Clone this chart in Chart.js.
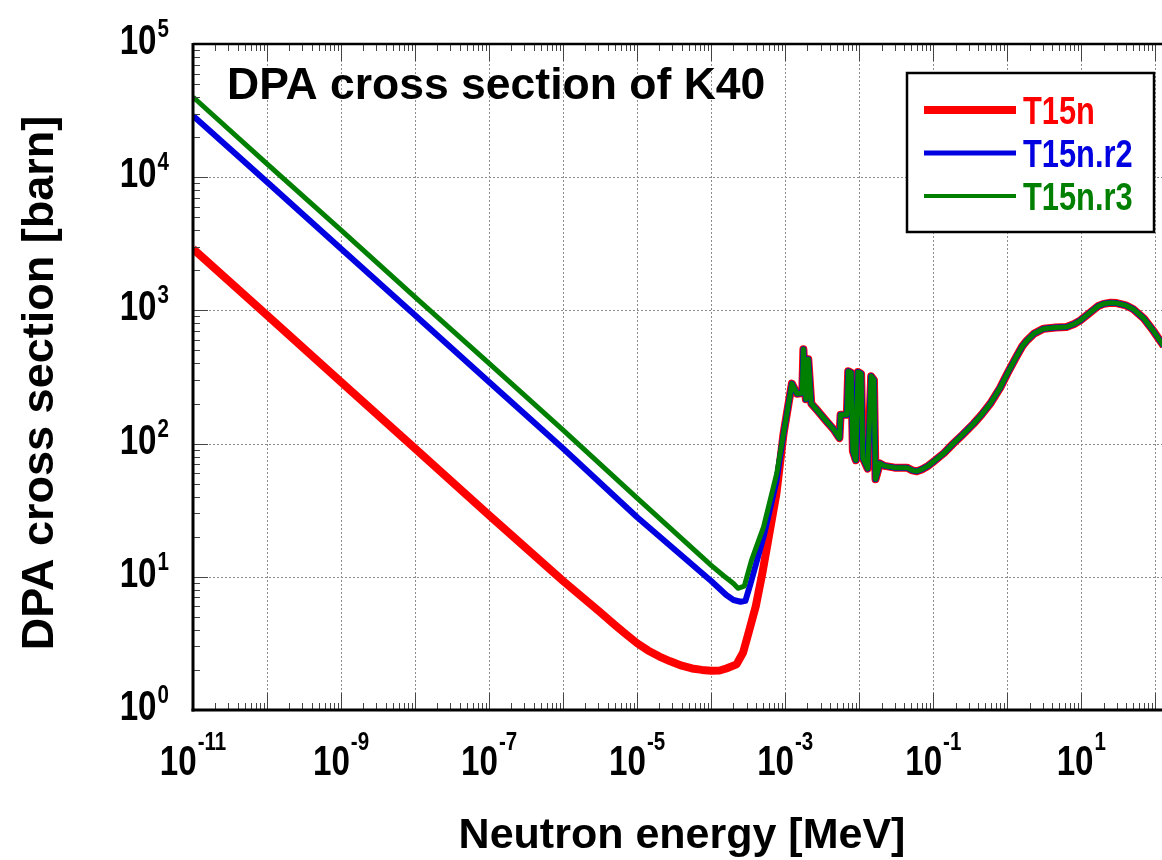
<!DOCTYPE html>
<html>
<head>
<meta charset="utf-8">
<title>DPA cross section of K40</title>
<script src="https://cdn.jsdelivr.net/npm/chart.js@4.4.1/dist/chart.umd.min.js"></script>
<style>
    html, body { margin: 0; padding: 0; background: #fff; overflow: hidden; }
    canvas { display: block; }
</style>
</head>
<body>
<canvas id="dpaChart" width="1162" height="860"></canvas>
<script>
//---------------------------------------------------------------------
// DATA (energy in MeV, cross section in barn)
//---------------------------------------------------------------------
const energyT15n = [1e-11, 1e-10, 1e-9, 1e-8, 1e-7, 1e-6, 3.2e-6, 5e-6, 7e-6, 1e-5, 1.4e-5, 2e-5, 2.8e-5, 4e-5, 5.5e-5, 7.5e-5,
                    1e-4, 1.3e-4, 1.6e-4, 2.2e-4, 2.7e-4, 3.2e-4, 4.0e-4, 4.9e-4, 6.0e-4, 7.6e-4];
const xsT15n     = [2900, 920, 290, 92, 29, 9.3, 5.4, 4.35, 3.72, 3.17, 2.8, 2.52, 2.32, 2.15, 2.05, 2.0,
                    1.97, 1.98, 2.05, 2.2, 2.7, 3.8, 6.0, 10.6, 20, 42];

const energyR2 = [1e-11, 1e-10, 1e-9, 1e-8, 1e-7, 1e-6, 1e-5, 1e-4, 1.6e-4, 2.0e-4, 2.5e-4, 2.9e-4, 3.4e-4, 5.1e-4, 7.6e-4];
const xsR2     = [29000, 9200, 2900, 920, 290, 92, 28, 9.3, 7.3, 6.7, 6.5, 6.6, 8.9, 20, 52];

const energyR3 = [1e-11, 1e-10, 1e-9, 1e-8, 1e-7, 1e-6, 1e-5, 1e-4, 1.5e-4, 2.0e-4, 2.3e-4, 2.8e-4, 3.5e-4, 5.1e-4, 7.7e-4];
const xsR3     = [40000, 12600, 4000, 1260, 400, 126, 39, 12.2, 10.1, 8.9, 8.2, 8.5, 13.3, 23.7, 60];

// above ~1 keV the three evaluations coincide
const energyHigh = [9.5e-4, 1.23e-3, 1.44e-3, 1.70e-3, 1.76e-3, 1.90e-3, 2.05e-3, 2.25e-3, 2.7e-3, 3.5e-3, 4.5e-3,
                    5.4e-3, 5.6e-3, 6.8e-3, 7.1e-3, 7.8e-3, 8.2e-3, 9.0e-3, 9.6e-3, 1.06e-2, 1.12e-2, 1.3e-2,
                    1.45e-2, 1.58e-2, 1.66e-2, 1.9e-2, 2.2e-2, 3.0e-2, 4.4e-2, 5.2e-2, 6.0e-2, 7.0e-2, 0.085,
                    0.1, 0.14, 0.186, 0.25, 0.35, 0.45, 0.59, 0.8, 1.0, 1.3, 1.6, 1.85, 2.3, 3.1, 4.5, 6.3, 8.0,
                    9.7, 13, 17, 20, 25, 30, 40, 50, 70, 93, 130];
const xsHigh     = [119, 282, 237, 240, 510, 215, 430, 200, 178, 150, 128,
                    110, 165, 165, 350, 340, 88, 75, 345, 335, 78, 65,
                    320, 300, 54, 71, 68, 66, 66, 63, 62, 64, 68,
                    73, 85, 100, 117, 141, 165, 200, 262, 335, 440, 540, 596, 670, 729, 745, 750, 790,
                    842, 960, 1080, 1120, 1140, 1135, 1090, 1025, 870, 708, 540];

const seriesNames  = ['T15n', 'T15n.r2', 'T15n.r3'];
const seriesColors = ['#ff0000', '#0000e0', '#007f00'];
const seriesWidths = [8, 6, 5];
const legendWidths = [8, 5, 4];

const xTickExponents = [-11, -9, -7, -5, -3, -1, 1];
const yTickExponents = [0, 1, 2, 3, 4, 5];

const FONT = '"Liberation Sans", Arial, Helvetica, sans-serif';
const NARROW = 0.79;

function toPoints(energies, values) {
    return energies.map((e, i) => ({ x: e, y: values[i] }));
}

//---------------------------------------------------------------------
// DRAWING HELPERS
//---------------------------------------------------------------------
function narrowText(ctx, text, x, y, size, color) {
    ctx.save();
    ctx.font = `bold ${size}px ${FONT}`;
    ctx.fillStyle = color;
    ctx.textBaseline = 'alphabetic';
    ctx.textAlign = 'left';
    ctx.translate(x, y);
    ctx.scale(NARROW, 1);
    ctx.fillText(text, 0, 0);
    ctx.restore();
}

function narrowWidth(ctx, text, size) {
    ctx.font = `bold ${size}px ${FONT}`;
    return ctx.measureText(text).width * NARROW;
}

// "10" with a raised exponent
function drawPower(ctx, exp, x, baseY, supDy, align) {
    const big = 42, small = 26;
    const w1 = narrowWidth(ctx, '10', big);
    const w2 = narrowWidth(ctx, String(exp), small);
    const total = w1 + 1 + w2;
    const left = align === 'center' ? x - total / 2 : x - total;
    narrowText(ctx, '10', left, baseY, big, '#000');
    narrowText(ctx, String(exp), left + w1 + 1, baseY - supDy, small, '#000');
}

function line(ctx, x1, y1, x2, y2) {
    ctx.beginPath();
    ctx.moveTo(x1, y1);
    ctx.lineTo(x2, y2);
    ctx.stroke();
}

//---------------------------------------------------------------------
// FRAME / GRID / LABELS PLUGIN
//---------------------------------------------------------------------
const framePlugin = {
    id: 'frame',
    beforeDatasetsDraw(chart) {
        const { ctx, chartArea: a, scales: { x, y } } = chart;
        ctx.save();

        // dotted decade grid
        ctx.strokeStyle = '#8c8c8c';
        ctx.lineWidth = 1;
        ctx.setLineDash([2, 2]);
        for (let d = -10; d <= 2; d++) {
            const px = Math.round(x.getPixelForValue(Math.pow(10, d))) + 0.5;
            if (px >= a.right) continue;
            line(ctx, px, a.top, px, a.bottom);
        }
        for (let d = 1; d <= 4; d++) {
            const py = Math.round(y.getPixelForValue(Math.pow(10, d))) + 0.5;
            line(ctx, a.left, py, a.right, py);
        }
        ctx.setLineDash([]);

        // title inside the plot
        ctx.font = `bold 44.5px ${FONT}`;
        ctx.fillStyle = '#000';
        ctx.textBaseline = 'middle';
        ctx.textAlign = 'left';
        ctx.fillText('DPA cross section of K40', 227, 87);

        ctx.restore();
    },
    afterDatasetsDraw(chart) {
        const { ctx, chartArea: a, scales: { x, y } } = chart;
        ctx.save();

        // minor and decade ticks (inside)
        ctx.strokeStyle = '#444';
        ctx.lineWidth = 1;
        for (let d = -11; d <= 2; d++) {
            for (let m = 1; m <= 9; m++) {
                const px = Math.round(x.getPixelForValue(m * Math.pow(10, d))) + 0.5;
                if (px <= a.left + 1 || px >= a.right) continue;
                const len = m === 1 ? 17 : 7;
                line(ctx, px, a.bottom, px, a.bottom - len);
                line(ctx, px, a.top, px, a.top + len);
            }
        }
        for (let d = 0; d <= 4; d++) {
            for (let m = 1; m <= 9; m++) {
                const py = Math.round(y.getPixelForValue(m * Math.pow(10, d))) + 0.5;
                if (py >= a.bottom - 1 || py <= a.top + 1) continue;
                const len = m === 1 ? 15 : 7;
                line(ctx, a.left, py, a.left + len, py);
            }
        }

        // axes frame
        ctx.strokeStyle = '#000';
        ctx.lineWidth = 3;
        line(ctx, a.left, a.top - 1, a.left, a.bottom + 1.5);
        line(ctx, a.left - 1.5, a.bottom, a.right, a.bottom);
        ctx.lineWidth = 2.5;
        line(ctx, a.left, a.top, a.right, a.top);

        // tick labels
        xTickExponents.forEach(e => {
            const px = x.getPixelForValue(Math.pow(10, e));
            drawPower(ctx, e, px, 775, 25, 'center');
        });
        yTickExponents.forEach(e => {
            const py = y.getPixelForValue(Math.pow(10, e));
            drawPower(ctx, e, 169, py + 10, 17, 'right');
        });

        // axis titles
        ctx.fillStyle = '#000';
        ctx.font = `bold 43px ${FONT}`;
        ctx.textAlign = 'center';
        ctx.textBaseline = 'alphabetic';
        ctx.fillText('Neutron energy [MeV]', 682, 848);

        ctx.save();
        ctx.translate(53, 383);
        ctx.rotate(-Math.PI / 2);
        ctx.font = `bold 45px ${FONT}`;
        ctx.fillText('DPA cross section [barn]', 0, 0);
        ctx.restore();

        // legend box
        ctx.fillStyle = '#fff';
        ctx.fillRect(907, 73, 247, 159);
        ctx.strokeStyle = '#000';
        ctx.lineWidth = 2.5;
        ctx.strokeRect(907, 73, 247, 159);
        const rows = [110, 153, 196];
        seriesNames.forEach((name, i) => {
            ctx.strokeStyle = seriesColors[i];
            ctx.lineWidth = legendWidths[i];
            line(ctx, 924, rows[i], 1016, rows[i]);
            narrowText(ctx, name, 1023, rows[i] + 14, 39, seriesColors[i]);
        });

        ctx.restore();
    }
};

//---------------------------------------------------------------------
// CHART
//---------------------------------------------------------------------
const datasets = [
    { data: toPoints(energyT15n.concat(energyHigh), xsT15n.concat(xsHigh)), order: 3 },
    { data: toPoints(energyR2.concat(energyHigh), xsR2.concat(xsHigh)), order: 2 },
    { data: toPoints(energyR3.concat(energyHigh), xsR3.concat(xsHigh)), order: 1 }
].map((ds, i) => ({
    label: seriesNames[i],
    data: ds.data,
    order: ds.order,
    borderColor: seriesColors[i],
    backgroundColor: seriesColors[i],
    borderWidth: seriesWidths[i],
    borderJoinStyle: 'round',
    pointRadius: 0,
    tension: 0,
    fill: false
}));

new Chart(document.getElementById('dpaChart'), {
    type: 'line',
    data: { datasets: datasets },
    options: {
        responsive: false,
        animation: false,
        devicePixelRatio: 1,
        layout: { padding: { left: 193, top: 44, right: 0, bottom: 150 } },
        plugins: {
            legend: { display: false },
            tooltip: { enabled: false }
        },
        scales: {
            x: { type: 'logarithmic', min: 1e-11, max: 123, display: false },
            y: { type: 'logarithmic', min: 1, max: 1e5, display: false }
        }
    },
    plugins: [framePlugin]
});
</script>
</body>
</html>
